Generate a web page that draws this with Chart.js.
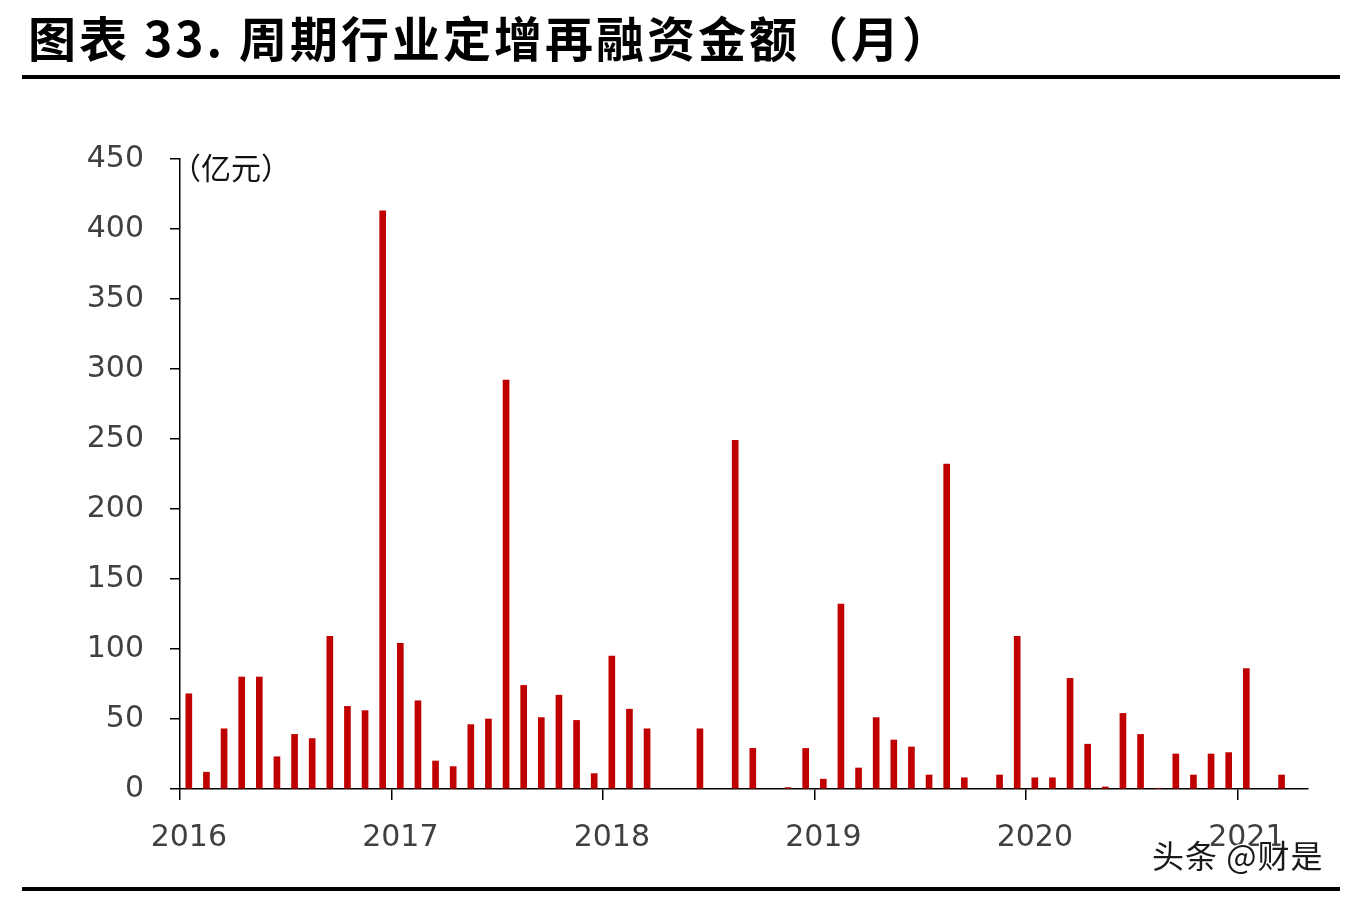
<!DOCTYPE html>
<html>
<head>
<meta charset="utf-8">
<script src="https://cdn.jsdelivr.net/npm/chart.js@4.4.1/dist/chart.umd.min.js"></script>
<style>
  html, body { margin: 0; padding: 0; background: #fff; }
  body { width: 1358px; height: 898px; position: relative; overflow: hidden; }
  #wrap { position: absolute; left: 0; top: 0; width: 1358px; height: 898px; }
  .title {
    position: absolute; left: 28px; top: 1px;
    font: bold 48px "Noto Sans CJK SC", sans-serif; color: #000;
    letter-spacing: 3px; white-space: nowrap;
  }
  .rule { position: absolute; left: 22px; width: 1318px; height: 4px; background: #000; }
  .unit {
    position: absolute; left: 171px; top: 144px;
    font: 30px "Noto Sans CJK SC", sans-serif; color: #111; white-space: nowrap;
  }
  .mark {
    position: absolute; left: 1152px; top: 831px;
    font: 32px "Noto Sans CJK SC", sans-serif; color: #1a1a1a; white-space: nowrap;
    letter-spacing: 1px;
    text-shadow: -1px -1px 0 #fff, 1px -1px 0 #fff, -1px 1px 0 #fff, 1px 1px 0 #fff, 0 0 3px #fff;
  }
</style>
</head>
<body>
<div id="wrap"><canvas id="chart"></canvas></div>
<div class="title">图表 33. 周期行业定增再融资金额（月）</div>
<div class="rule" style="top:75px"></div>
<div class="rule" style="top:887px"></div>
<div class="unit">（亿元）</div>
<div class="mark">头条 @财是</div>
<script>
// ── Data (亿元, monthly, Jan 2016 – Apr 2021) ─────────────────
const YEARS = ['2016', '2017', '2018', '2019', '2020', '2021'];
const MONTHS_IN_LAST_YEAR = 4;

const VALUES_2016 = [68, 12, 43, 80, 80, 23, 39, 36, 109, 59, 56, 413];
const VALUES_2017 = [104, 63, 20, 16, 46, 50, 292, 74, 51, 67, 49, 11];
const VALUES_2018 = [95, 57, 43, null, null, 43, null, 249, 29, null, 1, 29];
const VALUES_2019 = [7, 132, 15, 51, 35, 30, 10, 232, 8, null, 10, 109];
const VALUES_2020 = [8, 8, 79, 32, 1.5, 54, 39, 0.5, 25, 10, 25, 26];
const VALUES_2021 = [86, null, 10, null];

const Y_TICKS = [0, 50, 100, 150, 200, 250, 300, 350, 400, 450];

const BAR_COLOR  = '#C00000';
const TEXT_COLOR = '#404040';
const AXIS_COLOR = '#000000';

// ── Build categories ──────────────────────────────────────────
const categories = [];
YEARS.forEach((y, yi) => {
  const n = yi === YEARS.length - 1 ? MONTHS_IN_LAST_YEAR : 12;
  for (let m = 1; m <= n; m++) categories.push(y + '-' + String(m).padStart(2, '0'));
});
const values = [].concat(VALUES_2016, VALUES_2017, VALUES_2018, VALUES_2019, VALUES_2020, VALUES_2021);

const isYearStart = (i) => i < categories.length && categories[i] && categories[i].endsWith('-01');

const canvas = document.getElementById('chart');
canvas.width = 1358;
canvas.height = 898;

new Chart(canvas.getContext('2d'), {
  type: 'bar',
  data: {
    labels: categories,
    datasets: [{
      data: values,
      backgroundColor: BAR_COLOR,
      borderWidth: 0,
      barThickness: 6,
    }],
  },
  options: {
    responsive: false,
    animation: false,
    layout: { padding: { left: 0, right: 50, top: 159, bottom: 0 } },
    plugins: { legend: { display: false }, tooltip: { enabled: false } },
    scales: {
      x: {
        type: 'category',
        offset: true,
        afterFit: (s) => { s.height = 109; },
        grid: {
          offset: true,
          drawOnChartArea: false,
          drawTicks: true,
          tickLength: 11,
          lineWidth: 1.5,
          color: (ctx) => (isYearStart(ctx.index) ? AXIS_COLOR : 'rgba(0,0,0,0)'),
        },
        border: { display: true, color: AXIS_COLOR, width: 1.5 },
        ticks: {
          autoSkip: false,
          maxRotation: 0,
          minRotation: 0,
          padding: 20,
          color: TEXT_COLOR,
          font: { family: 'DejaVu Sans', size: 30 },
          callback: (v, i) => (isYearStart(i) ? categories[i].slice(0, 4) : ''),
        },
      },
      y: {
        min: 0,
        max: 450,
        afterFit: (s) => { s.width = 180; },
        afterBuildTicks: (s) => { s.ticks = Y_TICKS.map((v) => ({ value: v })); },
        grid: {
          drawOnChartArea: false,
          drawTicks: true,
          tickLength: 10,
          lineWidth: 1.5,
          color: AXIS_COLOR,
        },
        border: { display: true, color: AXIS_COLOR, width: 1.5 },
        ticks: {
          padding: 26,
          color: TEXT_COLOR,
          font: { family: 'DejaVu Sans', size: 30 },
        },
      },
    },
  },
});
</script>
</body>
</html>
